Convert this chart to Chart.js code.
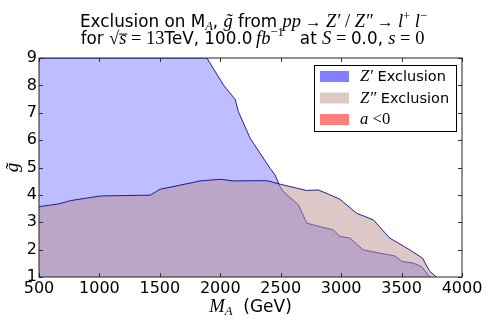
<!DOCTYPE html>
<html>
<head>
<meta charset="utf-8">
<script src="https://cdn.jsdelivr.net/npm/chart.js@4/dist/chart.umd.min.js"></script>
<style>
  body { margin: 0; background: #fff; }
  canvas { display: block; }
</style>
</head>
<body>
<canvas id="exclChart" width="491" height="327"></canvas>
<script>
// Z' exclusion boundary
const zpMass = [500, 1000, 1500, 1889, 2027, 2123, 2150, 2247, 2412, 2453, 2495, 2522, 2646, 2715, 2798, 2935, 2990, 3073, 3183, 3321, 3445, 3500, 3596, 3665, 3734];
const zpG    = [9, 9, 9, 9, 8.01, 7.49, 7.04, 6.07, 4.97, 4.73, 4.30, 4.12, 3.64, 2.97, 2.87, 2.72, 2.48, 2.42, 1.99, 1.87, 1.77, 1.57, 1.51, 1.38, 1.0];

// Z'' exclusion boundary
const zppMass = [500, 664, 760, 1008, 1421, 1504, 1641, 1834, 2000, 2109, 2385, 2495, 2715, 2811, 2894, 2990, 3128, 3266, 3403, 3569, 3673, 3734, 3789];
const zppG    = [3.57, 3.67, 3.79, 3.96, 3.99, 4.21, 4.33, 4.51, 4.57, 4.51, 4.52, 4.39, 4.16, 4.18, 4.03, 3.84, 3.33, 3.09, 2.42, 1.99, 1.69, 1.20, 1.0];

// a<0 region (empty in this plot)
const negMass = [];
const negG = [];

const xTicks = [500, 1000, 1500, 2000, 2500, 3000, 3500, 4000];
const yTicks = [1, 2, 3, 4, 5, 6, 7, 8, 9];

const SANS = "'DejaVu Sans'";
const SERIF = "'Liberation Serif'";

const toPts = (xs, ys) => xs.map((x, i) => ({ x: x, y: ys[i] }));

// rich text: segments {t, k: 'sans'|'rm'|'it', s: size scale, dy}
function fontOf(seg, size) {
  const sz = size * (seg.s || 1);
  if (seg.k === "it") return "italic " + sz + "px " + SERIF;
  if (seg.k === "rm") return sz + "px " + SERIF;
  return sz + "px " + SANS;
}

function drawRich(ctx, segs, x, y, size, center) {
  let total = 0;
  segs.forEach(sg => { ctx.font = fontOf(sg, size); total += ctx.measureText(sg.t).width; });
  let cx = center ? x - total / 2 : x;
  ctx.textBaseline = "alphabetic";
  ctx.textAlign = "left";
  ctx.fillStyle = "#000";
  segs.forEach(sg => {
    ctx.font = fontOf(sg, size);
    const w = ctx.measureText(sg.t).width;
    ctx.fillText(sg.t, cx, y + (sg.dy || 0));
    if (sg.over) {
      ctx.fillRect(cx, y - size * 0.62, w + 1, 1);
    }
    cx += w;
  });
}

const title1 = [
  { t: "Exclusion on M", k: "sans" },
  { t: "A", k: "it", s: 0.75, dy: 3 },
  { t: ", ", k: "sans" },
  { t: "g\u0303", k: "it", s: 1.1 },
  { t: " from ", k: "sans" },
  { t: "pp", k: "it", s: 1.1 },
  { t: " \u2192 ", k: "rm" },
  { t: "Z\u2032", k: "it", s: 1.1 },
  { t: " / ", k: "rm", s: 1.1 },
  { t: "Z\u2033", k: "it", s: 1.1 },
  { t: " \u2192 ", k: "rm" },
  { t: "l", k: "it", s: 1.1 },
  { t: "+", k: "rm", s: 0.75, dy: -7 },
  { t: " l", k: "it", s: 1.1 },
  { t: "\u2212", k: "rm", s: 0.75, dy: -7 }
];

const title2 = [
  { t: "for ", k: "sans" },
  { t: "\u221a", k: "rm", s: 1.1 },
  { t: "s", k: "it", s: 1.1, over: true },
  { t: " = ", k: "rm", s: 1.1 },
  { t: "13", k: "rm", s: 1.1 },
  { t: "TeV, 100.0", k: "sans" },
  { t: "\u2009fb", k: "it", s: 1.1 },
  { t: "\u22121", k: "rm", s: 0.75, dy: -8 },
  { t: "   at ", k: "sans" },
  { t: "S", k: "it", s: 1.1 },
  { t: " = ", k: "rm", s: 1.1 },
  { t: "0.0, ", k: "sans" },
  { t: "s", k: "it", s: 1.1 },
  { t: " = ", k: "rm", s: 1.1 },
  { t: "0", k: "rm", s: 1.1 }
];

const xLabel = [
  { t: "M", k: "it", s: 1.1 },
  { t: "A", k: "it", s: 0.75, dy: 3 },
  { t: "  (GeV)", k: "sans" }
];

const decor = {
  id: "decor",
  afterDatasetsDraw(chart) {
    const ctx = chart.ctx;
    const ca = chart.chartArea;
    const xs = chart.scales.x, ys = chart.scales.y;
    ctx.save();
    // inward ticks on all four sides
    ctx.strokeStyle = "#333";
    ctx.lineWidth = 1;
    ctx.beginPath();
    xTicks.forEach(v => {
      const px = Math.round(xs.getPixelForValue(v)) + 0.5;
      ctx.moveTo(px, ca.bottom); ctx.lineTo(px, ca.bottom - 4);
      ctx.moveTo(px, ca.top); ctx.lineTo(px, ca.top + 4);
    });
    yTicks.forEach(v => {
      const py = Math.round(ys.getPixelForValue(v)) + 0.5;
      ctx.moveTo(ca.left, py); ctx.lineTo(ca.left + 4, py);
      ctx.moveTo(ca.right, py); ctx.lineTo(ca.right - 4, py);
    });
    ctx.stroke();
    // frame
    ctx.strokeStyle = "#222";
    ctx.strokeRect(ca.left, ca.top, ca.right - ca.left, ca.bottom - ca.top);

    // legend
    const lx = ca.right - 148, ly = ca.top + 7, lw = 142, lh = 66;
    ctx.fillStyle = "#fff";
    ctx.fillRect(lx, ly, lw, lh);
    ctx.strokeStyle = "#000";
    ctx.strokeRect(lx + 0.5, ly + 0.5, lw, lh);
    chart.data.datasets.forEach((ds, i) => {
      const cy = ly + 11 + i * 21.5;
      ctx.fillStyle = ds.legendColor;
      ctx.fillRect(lx + 6, cy - 5, 29, 11);
      drawRich(ctx, ds.legendSegs, lx + 46, cy + 5, 14.5, false);
    });

    // titles and axis label
    const mid = (ca.left + ca.right) / 2;
    drawRich(ctx, title1, mid + 3, 26.5, 16.8, true);
    drawRich(ctx, title2, mid + 2, 44, 16.8, true);
    drawRich(ctx, xLabel, mid, 312, 17, true);
    ctx.restore();
  }
};

new Chart(document.getElementById("exclChart"), {
  type: "line",
  data: {
    datasets: [{
      label: "Z\u2032 Exclusion",
      data: toPts(zpMass, zpG),
      fill: "start",
      backgroundColor: "rgba(0,0,255,0.26)",
      borderColor: "rgba(0,0,140,0.85)",
      borderWidth: 1,
      pointRadius: 0,
      tension: 0,
      order: 1,
      legendColor: "rgba(0,0,255,0.5)",
      legendSegs: [{ t: "Z\u2032", k: "it", s: 1.15 }, { t: " Exclusion", k: "sans" }]
    }, {
      label: "Z\u2033 Exclusion",
      data: toPts(zppMass, zppG),
      fill: "start",
      backgroundColor: "rgba(188,143,143,0.5)",
      borderColor: "rgba(0,0,140,0.85)",
      borderWidth: 1,
      pointRadius: 0,
      tension: 0,
      order: 0,
      legendColor: "rgba(188,143,143,0.5)",
      legendSegs: [{ t: "Z\u2033", k: "it", s: 1.15 }, { t: " Exclusion", k: "sans" }]
    }, {
      label: "a<0",
      data: toPts(negMass, negG),
      fill: "start",
      backgroundColor: "rgba(255,0,0,0.5)",
      borderWidth: 0,
      pointRadius: 0,
      order: 2,
      legendColor: "rgba(255,0,0,0.5)",
      legendSegs: [{ t: "a", k: "it", s: 1.15 }, { t: " <0", k: "rm", s: 1.15 }]
    }]
  },
  options: {
    responsive: false,
    animation: false,
    layout: { padding: { left: 0, right: 29, top: 58, bottom: 0 } },
    plugins: {
      legend: { display: false },
      title: { display: false },
      tooltip: { enabled: false }
    },
    scales: {
      x: {
        type: "linear",
        min: 500,
        max: 4000,
        afterBuildTicks: s => { s.ticks = xTicks.map(v => ({ value: v })); },
        afterFit: s => { s.height = 50; },
        ticks: {
          font: { family: "DejaVu Sans", size: 16 }, color: "#000", padding: 2,
          maxRotation: 0, autoSkip: false, callback: v => String(v)
        },
        grid: { display: false, drawTicks: false },
        border: { display: false }
      },
      y: {
        min: 1,
        max: 9,
        afterBuildTicks: s => { s.ticks = yTicks.map(v => ({ value: v })); },
        afterFit: s => { s.width = 39; },
        ticks: { font: { family: "DejaVu Sans", size: 16 }, color: "#000", padding: 2, autoSkip: false },
        grid: { display: false, drawTicks: false },
        border: { display: false },
        title: {
          display: true,
          text: "g\u0303",
          color: "#000",
          font: { family: "Liberation Serif", style: "italic", size: 19 },
          padding: { top: 2, bottom: 0 }
        }
      }
    }
  },
  plugins: [decor]
});
</script>
</body>
</html>
